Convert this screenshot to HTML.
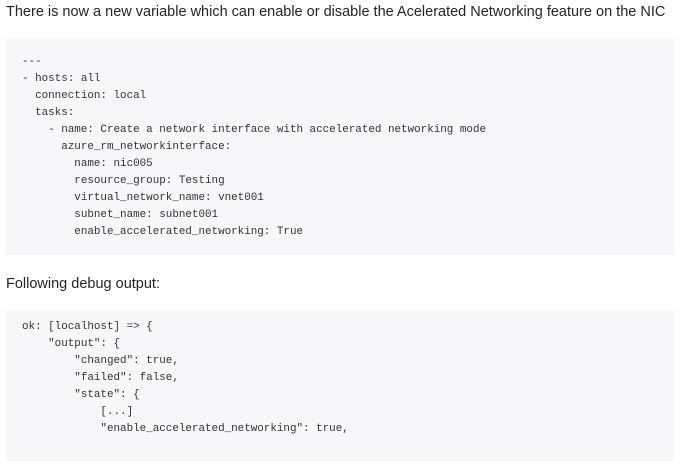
<!DOCTYPE html>
<html><head><style>
body{margin:0;width:683px;height:469px;background:#fff;position:relative;overflow:hidden;font-family:"Liberation Sans",sans-serif;color:#242424}
.p{position:absolute;left:6px;font-size:14.5px;white-space:nowrap}
.c{position:absolute;left:6px;width:668px;background:#f7f7f9}
pre{margin:0;position:absolute;left:16px;font-family:"Liberation Mono",monospace;font-size:10.9px;line-height:17px;color:#333}
</style></head><body>
<div class="p" style="top:4px">There is now a new variable which can enable or disable the Acelerated Networking feature on the NIC</div>
<div class="c" style="top:38px;height:217px"><pre style="top:16px">---
- hosts: all
  connection: local
  tasks:
    - name: Create a network interface with accelerated networking mode
      azure_rm_networkinterface:
        name: nic005
        resource_group: Testing
        virtual_network_name: vnet001
        subnet_name: subnet001
        enable_accelerated_networking: True</pre></div>
<div class="p" style="top:276px">Following debug output:</div>
<div class="c" style="top:310px;height:151px"><pre style="top:9px">ok: [localhost] =&gt; {
    "output": {
        "changed": true,
        "failed": false,
        "state": {
            [...]
            "enable_accelerated_networking": true,</pre></div>
</body></html>
